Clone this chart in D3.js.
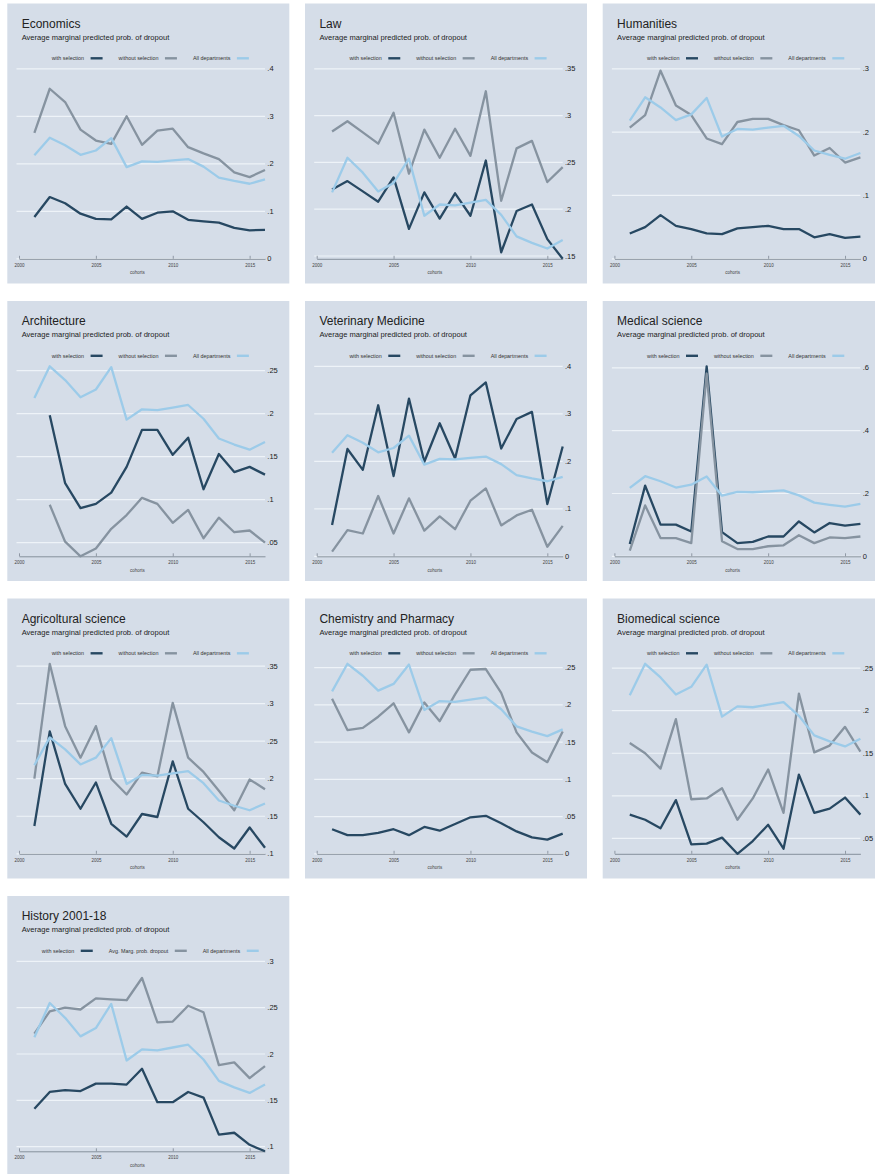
<!DOCTYPE html>
<html><head><meta charset="utf-8">
<script src="https://cdn.jsdelivr.net/npm/d3@7"></script>
<style>
body{margin:0;background:#fff;}
svg{display:block;font-family:"Liberation Sans",Arial,Helvetica,sans-serif;}
</style>
</head><body>
<svg id="chart" width="875" height="1174"></svg>
<script>
// ---------- data ----------
const years = [2001,2002,2003,2004,2005,2006,2007,2008,2009,2010,2011,2012,2013,2014,2015,2016];
const xTickValues = [2000,2005,2010,2015];
const xTickLabels = ["2000","2005","2010","2015"];
const seriesLabels = ["with selection","without selection","All departments"];

const allDepartments = [0.218,0.255,0.239,0.219,0.228,0.254,0.193,0.205,0.204,0.207,0.210,0.194,0.171,0.164,0.158,0.167];

const economicsWith    = [0.088,0.130,0.117,0.095,0.084,0.083,0.110,0.084,0.097,0.100,0.082,0.079,0.076,0.065,0.060,0.061];
const economicsWithout = [0.265,0.358,0.330,0.272,0.249,0.242,0.300,0.240,0.270,0.274,0.235,0.222,0.210,0.182,0.172,0.187];
const economicsTicks = [0,0.1,0.2,0.3,0.4];
const economicsTickLabels = ["0",".1",".2",".3",".4"];

const lawWith    = [0.221,0.230,0.219,0.208,0.234,0.179,0.218,0.190,0.217,0.193,0.252,0.154,0.198,0.205,0.168,0.147];
const lawWithout = [0.283,0.294,0.282,0.270,0.303,0.238,0.285,0.255,0.286,0.257,0.326,0.209,0.265,0.273,0.229,0.245];
const lawTicks = [0.15,0.2,0.25,0.3,0.35];
const lawTickLabels = [".15",".2",".25",".3",".35"];

const humanitiesWith    = [0.040,0.050,0.069,0.052,0.047,0.040,0.039,0.048,0.050,0.052,0.047,0.047,0.034,0.039,0.033,0.035];
const humanitiesWithout = [0.207,0.227,0.297,0.242,0.227,0.190,0.181,0.216,0.221,0.221,0.211,0.203,0.163,0.175,0.152,0.160];
const humanitiesTicks = [0,0.1,0.2,0.3];
const humanitiesTickLabels = ["0",".1",".2",".3"];

const architectureWith    = [null,0.198,0.119,0.090,0.095,0.108,0.138,0.181,0.181,0.152,0.172,0.112,0.153,0.132,0.138,0.129];
const architectureWithout = [null,0.094,0.051,0.034,0.043,0.066,0.082,0.102,0.095,0.073,0.088,0.055,0.079,0.062,0.064,0.050];
const architectureTicks = [0.05,0.1,0.15,0.2,0.25];
const architectureTickLabels = [".05",".1",".15",".2",".25"];

const veterinaryWith    = [0.066,0.226,0.182,0.318,0.169,0.332,0.199,0.280,0.206,0.339,0.366,0.227,0.289,0.304,0.110,0.231];
const veterinaryWithout = [0.010,0.055,0.048,0.127,0.048,0.122,0.054,0.084,0.057,0.117,0.143,0.065,0.086,0.098,0.020,0.064];
const veterinaryTicks = [0,0.1,0.2,0.3,0.4];
const veterinaryTickLabels = ["0",".1",".2",".3",".4"];

const medicalWith    = [0.039,0.225,0.101,0.101,0.079,0.605,0.077,0.042,0.046,0.063,0.063,0.111,0.076,0.106,0.098,0.103];
const medicalWithout = [0.018,0.162,0.058,0.058,0.042,0.582,0.048,0.023,0.023,0.032,0.035,0.067,0.042,0.060,0.058,0.063];
const medicalTicks = [0,0.2,0.4,0.6];
const medicalTickLabels = ["0",".2",".4",".6"];

const agriculturalWith    = [0.137,0.263,0.193,0.160,0.195,0.140,0.123,0.153,0.149,0.223,0.160,0.142,0.122,0.107,0.135,0.108];
const agriculturalWithout = [0.200,0.353,0.270,0.228,0.270,0.200,0.179,0.208,0.203,0.301,0.228,0.209,0.184,0.158,0.199,0.186];
const agriculturalTicks = [0.1,0.15,0.2,0.25,0.3,0.35];
const agriculturalTickLabels = [".1",".15",".2",".25",".3",".35"];

const chemistryWith    = [0.033,0.025,0.025,0.028,0.033,0.025,0.036,0.031,0.040,0.049,0.051,0.041,0.030,0.022,0.019,0.027];
const chemistryWithout = [0.208,0.166,0.169,0.184,0.202,0.163,0.203,0.178,0.214,0.247,0.248,0.216,0.163,0.136,0.123,0.164];
const chemistryTicks = [0,0.05,0.1,0.15,0.2,0.25];
const chemistryTickLabels = ["0",".05",".1",".15",".2",".25"];

const biomedicalWith    = [0.078,0.072,0.062,0.095,0.043,0.044,0.051,0.032,0.047,0.066,0.038,0.125,0.080,0.085,0.098,0.078];
const biomedicalWithout = [0.162,0.150,0.132,0.190,0.096,0.097,0.109,0.072,0.097,0.131,0.080,0.220,0.151,0.159,0.181,0.152];
const biomedicalTicks = [0.05,0.1,0.15,0.2,0.25];
const biomedicalTickLabels = [".05",".1",".15",".2",".25"];

const historyWith    = [0.141,0.159,0.161,0.160,0.168,0.168,0.167,0.184,0.148,0.148,0.159,0.153,0.113,0.115,0.102,0.095];
const historyWithout = [0.222,0.246,0.250,0.248,0.260,0.259,0.258,0.282,0.234,0.235,0.252,0.245,0.188,0.191,0.174,0.187];
const historyTicks = [0.1,0.15,0.2,0.25,0.3];
const historyTickLabels = [".1",".15",".2",".25",".3"];

const panels = [
  {title:"Economics", w:economicsWith, wo:economicsWithout, ticks:economicsTicks, labels:economicsTickLabels},
  {title:"Law", w:lawWith, wo:lawWithout, ticks:lawTicks, labels:lawTickLabels},
  {title:"Humanities", w:humanitiesWith, wo:humanitiesWithout, ticks:humanitiesTicks, labels:humanitiesTickLabels},
  {title:"Architecture", w:architectureWith, wo:architectureWithout, ticks:architectureTicks, labels:architectureTickLabels},
  {title:"Veterinary Medicine", w:veterinaryWith, wo:veterinaryWithout, ticks:veterinaryTicks, labels:veterinaryTickLabels},
  {title:"Medical science", w:medicalWith, wo:medicalWithout, ticks:medicalTicks, labels:medicalTickLabels},
  {title:"Agricoltural science", w:agriculturalWith, wo:agriculturalWithout, ticks:agriculturalTicks, labels:agriculturalTickLabels},
  {title:"Chemistry and Pharmacy", w:chemistryWith, wo:chemistryWithout, ticks:chemistryTicks, labels:chemistryTickLabels},
  {title:"Biomedical science", w:biomedicalWith, wo:biomedicalWithout, ticks:biomedicalTicks, labels:biomedicalTickLabels},
  {title:"History 2001-18", w:historyWith, wo:historyWithout, ticks:historyTicks, labels:historyTickLabels, legend2:"Avg. Marg. prob. dropout"}
];

// ---------- style / layout ----------
const colors = {w:"#274862", wo:"#8693a0", all:"#9ccbe9", bg:"#d5dde8", grid:"#eef3f8", axis:"#7d8793", text:"#222"};
const colX = [7.3, 305, 602.7];
const rowY = [3.5, 301, 598.5, 896];
const PW = 282, PH = 280;
const plotTop = 65.3, plotBottom = 255.3;

const svg = d3.select("#chart");
const x = d3.scaleLinear().domain([2000,2016]).range([11.7,257.7]);

panels.forEach((p,i) => {
  const g = svg.append("g").attr("transform",`translate(${colX[i%3]},${rowY[Math.floor(i/3)]})`);
  g.append("rect").attr("width",PW).attr("height",PH).attr("fill",colors.bg);

  const ext = d3.extent([...p.w, ...p.wo, ...allDepartments, ...p.ticks].filter(v => v!=null));
  const y = d3.scaleLinear().domain(ext).range([plotBottom, plotTop]);

  // gridlines
  g.append("g").selectAll("line").data(p.ticks).join("line")
    .attr("x1", x(2000)-2.5).attr("x2", x(2016))
    .attr("y1", d=>y(d)).attr("y2", d=>y(d))
    .attr("stroke", colors.grid).attr("stroke-width",1.2);

  // y labels (right)
  g.append("g").selectAll("text").data(p.ticks).join("text")
    .attr("x", 260).attr("y", d=>y(d)).attr("dy","0.35em")
    .attr("font-size",7.5).attr("fill",colors.text)
    .text((d,k)=>p.labels[k]);

  // x axis
  const xa = g.append("g").attr("transform",`translate(0,${plotBottom})`)
    .call(d3.axisBottom(x).tickValues(xTickValues).tickFormat((d,k)=>xTickLabels[k]).tickSize(0).tickPadding(5));
  xa.select(".domain").attr("stroke",colors.axis).attr("stroke-width",0.9);
  xa.selectAll(".tick text").attr("font-size",4.5).attr("fill","#444").attr("font-family","Liberation Sans, Arial, sans-serif");
  xa.selectAll(".tick").append("line").attr("y1",-3).attr("y2",0).attr("stroke",colors.axis).attr("stroke-width",0.8);
  g.append("text").attr("x",130).attr("y",plotBottom+15.5).attr("text-anchor","middle")
    .attr("font-size",4.5).attr("fill","#444").text("cohorts");

  // lines
  const line = d3.line().defined(d=>d[1]!=null).x(d=>x(d[0])).y(d=>y(d[1]));
  const draw = (vals,col) => g.append("path").datum(years.map((yr,k)=>[yr,vals[k]]))
    .attr("d",line).attr("fill","none").attr("stroke",col).attr("stroke-width",2.3)
    .attr("stroke-linejoin","round");
  draw(p.w, colors.w);
  draw(p.wo, colors.wo);
  draw(allDepartments, colors.all);

  // titles
  g.append("text").attr("x",14.4).attr("y",24).attr("font-size",12).attr("fill",colors.text).text(p.title);
  g.append("text").attr("x",14.4).attr("y",36.4).attr("font-size",7.55).attr("fill",colors.text)
    .text("Average marginal predicted prob. of dropout");

  // legend
  const labs = [seriesLabels[0], p.legend2 || seriesLabels[1], seriesLabels[2]];
  const cols = [colors.w, colors.wo, colors.all];
  const lg = g.append("g");
  let cx = 0;
  labs.forEach((lab,k)=>{
    const t = lg.append("text").attr("x",cx).attr("y",56.8).attr("font-size",5.4).attr("fill","#333").text(lab);
    const tw = t.node().getComputedTextLength();
    cx += tw + 6.5;
    lg.append("line").attr("x1",cx).attr("x2",cx+12).attr("y1",54.8).attr("y2",54.8)
      .attr("stroke",cols[k]).attr("stroke-width",2.4);
    cx += 12 + (k<2 ? 16 : 0);
  });
  lg.attr("transform",`translate(${143 - cx/2},0)`);
});
</script>
</body></html>
